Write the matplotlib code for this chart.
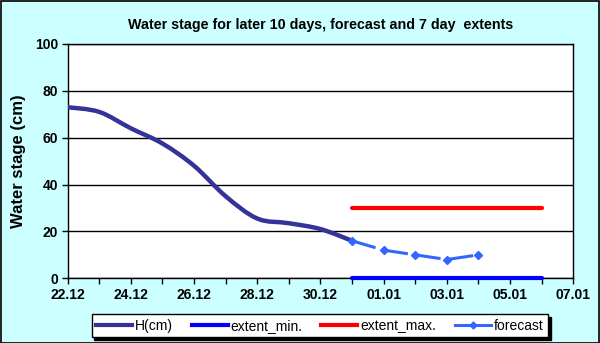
from matplotlib import pyplot as plt
from matplotlib.path import Path
from matplotlib.patches import PathPatch, Rectangle
from matplotlib.lines import Line2D
import matplotlib.dates as mdates
import numpy as np
import pandas as pd


# observed water stage, last 10 days
h_dates = ['2012-12-22', '2012-12-23', '2012-12-24', '2012-12-25', '2012-12-26',
           '2012-12-27', '2012-12-28', '2012-12-29', '2012-12-30', '2012-12-31']
h_values = [73, 71, 64, 57.5, 48, 35, 25.5, 23.5, 21, 16]

# forecast
fc_dates = ['2012-12-31', '2013-01-01', '2013-01-02', '2013-01-03', '2013-01-04']
fc_values = [16, 12, 10, 8, 10]

# 7 day extents
ext_dates = ['2012-12-31', '2013-01-06']
ext_min = [0, 0]
ext_max = [30, 30]

x_start, x_end = '2012-12-22', '2013-01-07'

BG = '#CCFFFF'


def smooth_path(x, y):
    # catmull-rom like bezier, roughly what excel does for smoothed lines
    verts = [(x[0], y[0])]
    codes = [Path.MOVETO]
    n = len(x)
    for i in range(n - 1):
        p0 = i - 1 if i > 0 else i
        p3 = i + 2 if i + 2 < n else i + 1
        c1 = (x[i] + (x[i + 1] - x[p0]) / 6, y[i] + (y[i + 1] - y[p0]) / 6)
        c2 = (x[i + 1] - (x[p3] - x[i]) / 6, y[i + 1] - (y[p3] - y[i]) / 6)
        verts += [c1, c2, (x[i + 1], y[i + 1])]
        codes += [Path.CURVE4] * 3
    return Path(verts, codes)


plt.rcParams['font.family'] = ['Liberation Sans', 'DejaVu Sans']

fig = plt.figure(figsize=(6, 3.43), dpi=100, facecolor=BG)
ax = fig.add_axes([0.1128, 0.1887, 0.8427, 0.6831])
ax.set_facecolor('white')

hx = mdates.date2num(pd.to_datetime(h_dates))
fx = mdates.date2num(pd.to_datetime(fc_dates))
ex = mdates.date2num(pd.to_datetime(ext_dates))

h_color = '#333399'
ax.add_patch(PathPatch(smooth_path(hx, h_values), facecolor='none', edgecolor=h_color,
                       lw=3.2, capstyle='round', joinstyle='round', zorder=4))
ax.plot(ex, ext_min, color='#0000FF', lw=3, solid_capstyle='round', zorder=4, clip_on=False)
ax.plot(ex, ext_max, color='#FF0000', lw=3, solid_capstyle='round', zorder=4)
ax.plot(fx, fc_values, color='#3366FF', lw=2.2, linestyle=(0, (8, 2.8)),
        marker='D', markersize=4.5, zorder=5)

ax.set_xlim(mdates.date2num(pd.to_datetime(x_start)), mdates.date2num(pd.to_datetime(x_end)))
ax.set_ylim(0, 100)
ax.set_yticks([0, 20, 40, 60, 80, 100])
ax.xaxis.set_major_locator(mdates.DayLocator(bymonthday=[1, 3, 5, 7, 22, 24, 26, 28, 30]))
ax.xaxis.set_minor_locator(mdates.DayLocator())
ax.xaxis.set_major_formatter(mdates.DateFormatter('%d.%m'))
ax.grid(axis='y', color='black', lw=1)
ax.set_axisbelow(True)
for sp in ax.spines.values():
    sp.set_color('black')
    sp.set_linewidth(1)

ax.tick_params(axis='both', which='both', direction='out', color='black', width=1)
ax.tick_params(axis='x', which='major', length=4, labelsize=10, pad=3)
ax.tick_params(axis='x', which='minor', length=4)
ax.tick_params(axis='y', length=4, labelsize=10, pad=3)
for lbl in ax.get_xticklabels() + ax.get_yticklabels():
    lbl.set_fontweight('bold')

ax.set_ylabel('Water stage (cm)', fontsize=12, fontweight='bold', labelpad=6)
ax.set_title('Water stage for later 10 days, forecast and 7 day  extents',
             fontsize=10.3, fontweight='bold', pad=11)

handles = [
    Line2D([], [], color=h_color, lw=3),
    Line2D([], [], color='#0000FF', lw=3),
    Line2D([], [], color='#FF0000', lw=3),
    Line2D([], [], color='#3366FF', lw=2.2, marker='D', markersize=3.5),
]
labels = ['H(cm)', 'extent_min.', 'extent_max.', 'forecast']
leg = fig.legend(handles, labels, loc='center', bbox_to_anchor=(0.533, 0.05), ncol=4,
                 fontsize=10, frameon=True, fancybox=False, handlelength=2.6,
                 handletextpad=0.2, columnspacing=1.35, borderpad=0.32,
                 shadow={'color': 'black', 'alpha': 1})
leg.get_frame().set_edgecolor('black')
leg.get_frame().set_linewidth(1)
leg.get_frame().set_alpha(1)

fig.patches.append(Rectangle((0.001, 0.001), 0.997, 0.996, transform=fig.transFigure,
                             fill=False, edgecolor='black', lw=1.2))

fig.savefig('out.png', dpi=100, facecolor=BG)
